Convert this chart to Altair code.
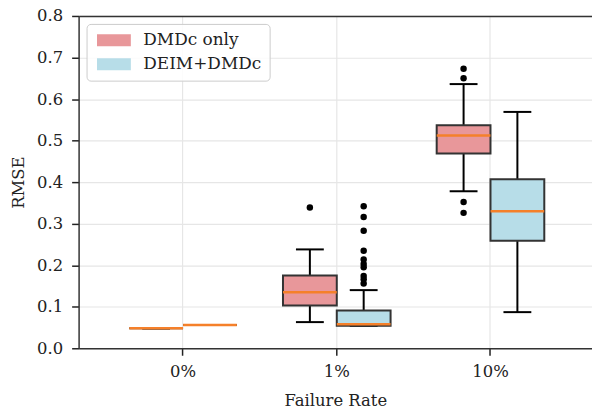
import altair as alt
import pandas as pd

rates = ["0%", "1%", "10%"]
methods = ["DMDc only", "DEIM+DMDc"]

dmdc_lo = [0.048, 0.063, 0.378]
dmdc_q1 = [0.048, 0.103, 0.469]
dmdc_med = [0.048, 0.135, 0.512]
dmdc_q3 = [0.048, 0.175, 0.537]
dmdc_hi = [0.048, 0.238, 0.636]

deim_lo = [0.056, 0.054, 0.087]
deim_q1 = [0.056, 0.054, 0.259]
deim_med = [0.056, 0.058, 0.330]
deim_q3 = [0.056, 0.091, 0.407]
deim_hi = [0.056, 0.140, 0.569]

dmdc_out_rate = ["1%", "10%", "10%", "10%", "10%"]
dmdc_out_val = [0.339, 0.673, 0.650, 0.352, 0.326]
deim_out_rate = ["1%"] * 10
deim_out_val = [0.342, 0.316, 0.283, 0.235, 0.214, 0.203, 0.195, 0.174, 0.166, 0.156]

colors = ["#e8979a", "#b7dde8"]

rows = []
for m, lo, q1, md, q3, hi in [
    (methods[0], dmdc_lo, dmdc_q1, dmdc_med, dmdc_q3, dmdc_hi),
    (methods[1], deim_lo, deim_q1, deim_med, deim_q3, deim_hi),
]:
    for i, r in enumerate(rates):
        rows.append(dict(rate=r, method=m, lo=lo[i], q1=q1[i], med=md[i], q3=q3[i], hi=hi[i]))
stats = pd.DataFrame(rows)

out = pd.DataFrame(
    [dict(rate=r, method=methods[0], v=v) for r, v in zip(dmdc_out_rate, dmdc_out_val)]
    + [dict(rate=r, method=methods[1], v=v) for r, v in zip(deim_out_rate, deim_out_val)]
)

FONT = "DejaVu Serif"
FS = 16.5

xscale = alt.Scale(paddingInner=0.3, paddingOuter=0.32, align=0.515)


def xenc(axis):
    return alt.X("rate:N", sort=rates, title="Failure Rate", scale=xscale, axis=axis)


x_bottom = xenc(alt.Axis(labelAngle=0, grid=True, bandPosition=0.5, orient="bottom"))
x_top = xenc(alt.Axis(orient="top", labels=False, ticks=False, grid=False, title=None, domain=True))
x_none = xenc(None)

xo = alt.XOffset("method:N", sort=methods, scale=alt.Scale(paddingInner=0, paddingOuter=0))
yscale = alt.Scale(domain=[0, 0.8], nice=False)

base = alt.Chart(stats)

whisk = base.mark_rule(color="black", strokeWidth=2).encode(
    x=x_bottom, xOffset=xo,
    y=alt.Y("lo:Q", scale=yscale, title="RMSE",
            axis=alt.Axis(values=[0, 0.1, 0.2, 0.3, 0.4, 0.5, 0.6, 0.7, 0.8], format=".1f")),
    y2="hi:Q",
)
cap_lo = base.mark_tick(color="black", thickness=2, size=28, opacity=1).encode(
    x=x_none, xOffset=xo, y=alt.Y("lo:Q", scale=yscale))
cap_hi = base.mark_tick(color="black", thickness=2, size=28, opacity=1).encode(
    x=x_none, xOffset=xo, y=alt.Y("hi:Q", scale=yscale))
box = base.mark_bar(stroke="#333333", strokeWidth=2, opacity=1).encode(
    x=x_none, xOffset=xo,
    y=alt.Y("q1:Q", scale=yscale),
    y2="q3:Q",
    fill=alt.Fill(
        "method:N",
        sort=methods,
        scale=alt.Scale(domain=methods, range=colors),
        legend=alt.Legend(
            title=None,
            orient="none",
            legendX=8,
            legendY=8,
            symbolType="M-1,-1H4.667V1H-1Z",
            symbolSize=144,
            symbolStrokeWidth=0,
            symbolOpacity=1,
            labelFont=FONT,
            labelFontSize=17,
            labelColor="#222222",
            labelOffset=32,
            rowPadding=6,
            padding=8,
            strokeColor="#cccccc",
            fillColor="rgba(255,255,255,0.85)",
            cornerRadius=4,
        ),
    ),
)
med = base.mark_tick(color="#f5802a", thickness=2.5, size=54, opacity=1).encode(
    x=x_top, xOffset=xo, y=alt.Y("med:Q", scale=yscale)
)
pts = alt.Chart(out).mark_circle(color="black", size=42, opacity=1).encode(
    x=x_none, xOffset=xo, y=alt.Y("v:Q", scale=yscale)
)

chart = (
    alt.layer(whisk, cap_lo, cap_hi, box, med, pts)
    .resolve_axis(x="independent")
    .properties(
        width=516,
        height=334,
        autosize=alt.AutoSizeParams(type="none"),
        padding={"left": 79, "top": 15, "right": 0, "bottom": 62},
    )
    .configure_view(stroke=None)
    .configure_axis(
        labelFont=FONT,
        titleFont=FONT,
        labelFontSize=FS,
        titleFontSize=FS,
        titleFontWeight="normal",
        labelColor="#222222",
        titleColor="#222222",
        domainColor="#333333",
        domainWidth=1.5,
        tickColor="#222222",
        tickWidth=1.5,
        tickSize=7,
        gridColor="#e6e6e6",
        gridWidth=1.2,
        grid=True,
    )
    .configure_axisY(labelPadding=9, titlePadding=10)
    .configure_axisX(labelPadding=8, titlePadding=13)
)

chart.save("out.html", embed_options={"renderer": "svg", "actions": False})
